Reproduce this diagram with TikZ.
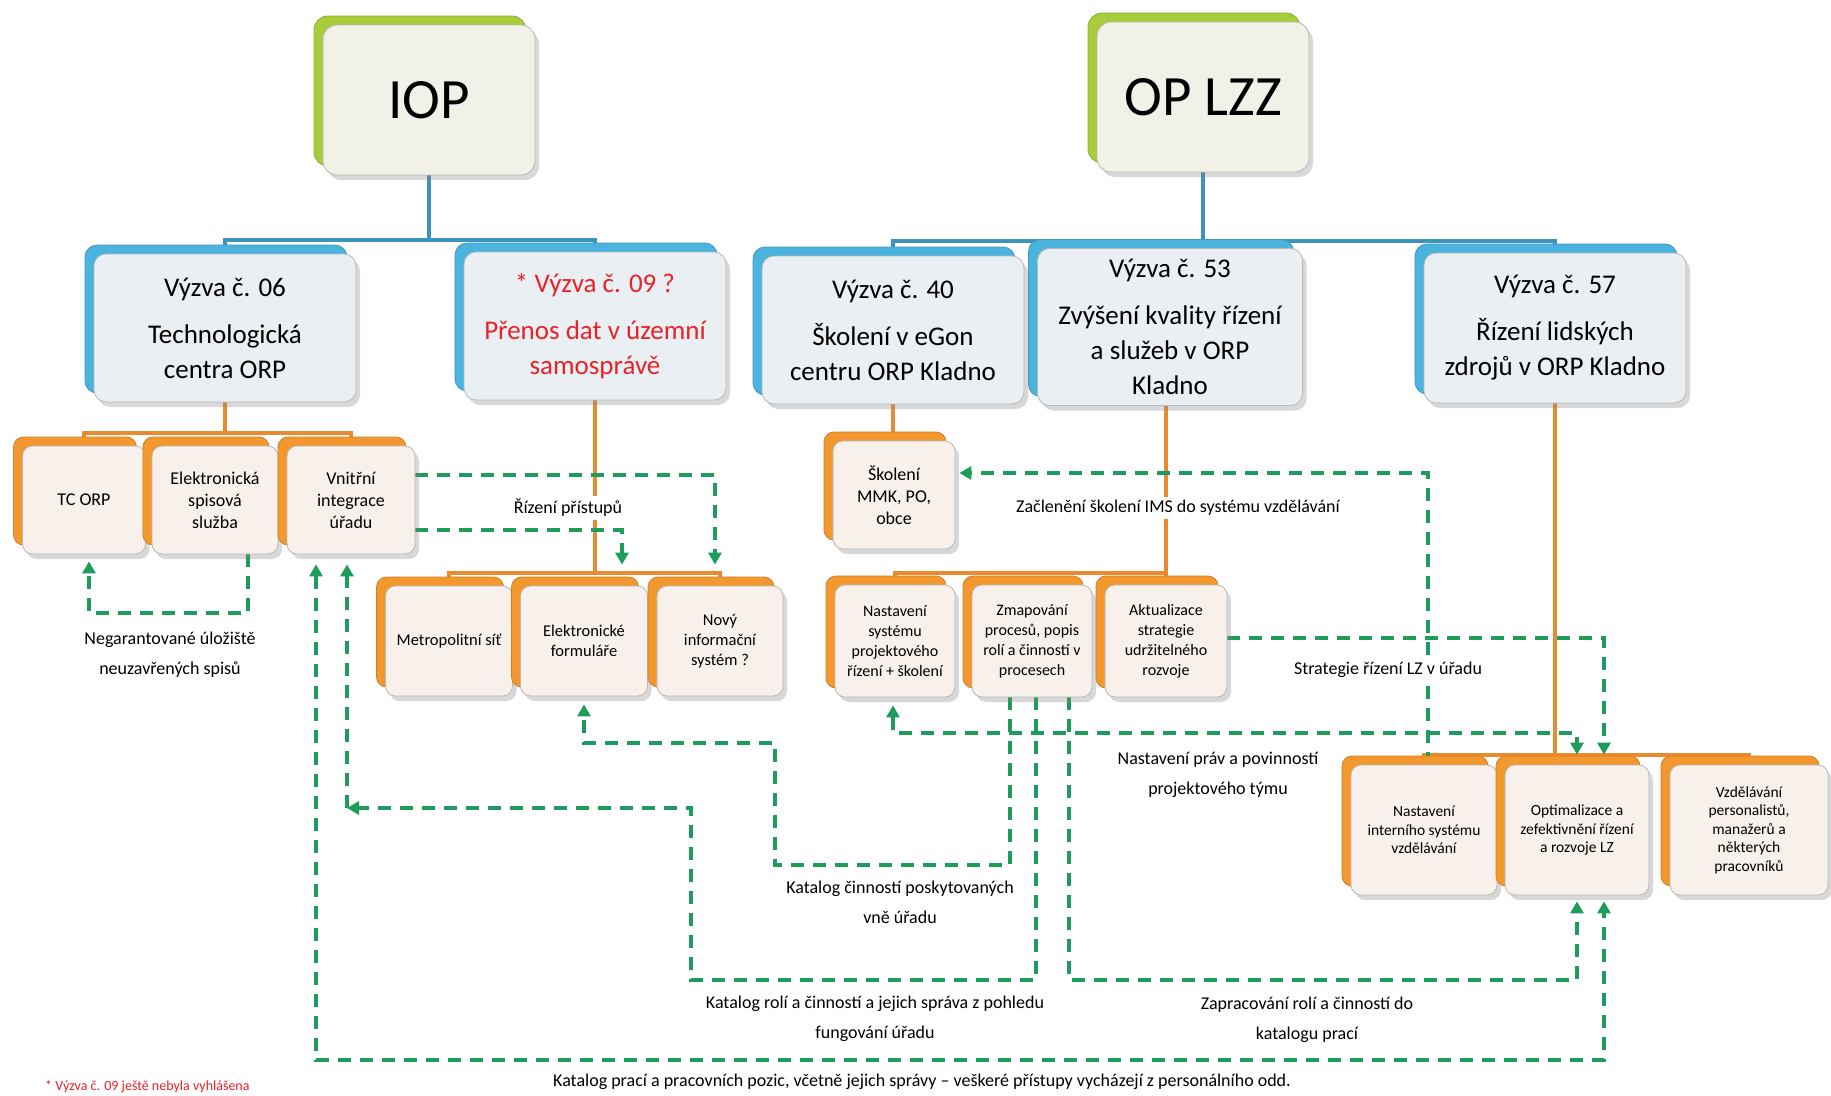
\documentclass[tikz,border=0pt]{standalone}
\usepackage{fontspec}
\setmainfont{Carlito}
\usetikzlibrary{arrows.meta,shadows,backgrounds}

\definecolor{plateblue}{RGB}{75,180,222}
\definecolor{lineblue}{RGB}{60,148,188}
\definecolor{plateorange}{RGB}{243,152,46}
\definecolor{lineorange}{RGB}{234,138,46}
\definecolor{plategreen}{RGB}{168,204,58}
\definecolor{flowgreen}{RGB}{30,156,92}
\definecolor{faceblue}{RGB}{233,239,243}
\definecolor{faceorange}{RGB}{247,240,235}
\definecolor{facegreen}{RGB}{241,241,232}
\definecolor{notered}{RGB}{232,34,40}

\tikzset{
  plate/.style={rounded corners=10pt, draw=white!72!black, line width=0.8pt,
    drop shadow={shadow xshift=4pt, shadow yshift=-5pt, opacity=0.3},
    copy shadow={shadow xshift=-9pt, shadow yshift=9pt, fill=#1, draw=#1!85!black}},
  topbox/.style={plate=plategreen, fill=facegreen, rounded corners=14pt,
    minimum width=212pt, minimum height=150pt, font=\fontsize{57}{60}\selectfont},
  callbox/.style={plate=plateblue, fill=faceblue, rounded corners=12pt, align=center,
    minimum width=262pt, minimum height=148pt, font=\fontsize{27}{35}\selectfont},
  taskbox/.style={plate=plateorange, fill=faceorange, align=center, inner sep=2pt,
    minimum width=124pt, minimum height=108pt, font=\fontsize{18}{22}\selectfont},
  callline/.style={lineblue, line width=4pt},
  taskline/.style={lineorange, line width=3.5pt},
  flowtip/.tip={Triangle[length=12pt,width=13pt]},
  flow/.style={flowgreen, line width=3.5pt, dash pattern=on 13pt off 9pt, -flowtip},
  flowlabel/.style={fill=white, inner sep=3pt, align=center, font=\fontsize{18}{30}\selectfont}
}

\begin{document}
\begin{tikzpicture}[x=1pt, y=-1pt]
  \useasboundingbox (0,0) rectangle (1831,1095);

  \node[topbox] (iop) at (429,100) {IOP};
  \node[topbox] (oplzz) at (1203,97) {OP LZZ};

  \node[callbox] (v06) at (225,328) {Výzva č. 06\\[12pt]Technologická\\centra ORP};
  \node[callbox, text=notered] (v09) at (595,326) {* Výzva č. 09 ?\\[12pt]Přenos dat v územní\\samosprávě};
  \node[callbox] (v40) at (893,330) {Výzva č. 40\\[12pt]Školení v eGon\\centru ORP Kladno};
  \node[callbox, minimum width=265pt, minimum height=157pt] (v53) at (1170,327) {Výzva č. 53\\[12pt]Zvýšení kvality řízení\\a služeb v ORP\\Kladno};
  \node[callbox, minimum height=150pt] (v57) at (1555,328) {Výzva č. 57\\[12pt]Řízení lidských\\zdrojů v ORP Kladno};

  \node[taskbox, minimum width=123pt] (tc) at (84,500) {TC ORP};
  \node[taskbox, minimum width=126pt] (elsp) at (215,500) {Elektronická\\spisová\\služba};
  \node[taskbox, minimum width=128pt] (vnitrni) at (351,500) {Vnitřní\\integrace\\úřadu};

  \node[taskbox, minimum width=127pt, minimum height=110pt, font=\fontsize{16.5}{20}\selectfont] (metro) at (449,641) {Metropolitní síť};
  \node[taskbox, minimum width=127pt, minimum height=110pt, font=\fontsize{16.5}{20}\selectfont] (form) at (584,641) {Elektronické\\formuláře};
  \node[taskbox, minimum width=126pt, minimum height=110pt, font=\fontsize{16.5}{20}\selectfont] (novy) at (720,641) {Nový\\informační\\systém ?};

  \node[taskbox, minimum width=122pt] (skol) at (894,495) {Školení\\MMK, PO,\\obce};

  \node[taskbox, minimum width=120pt, minimum height=112pt, font=\fontsize{16}{20}\selectfont] (nsp) at (895,641) {Nastavení\\systému\\projektového\\řízení + školení};
  \node[taskbox, minimum width=120pt, minimum height=112pt, font=\fontsize{16}{20}\selectfont] (zmap) at (1032,641) {Zmapování\\procesů, popis\\rolí a činností v\\procesech};
  \node[taskbox, minimum width=122pt, minimum height=112pt, font=\fontsize{16}{20}\selectfont] (aktual) at (1166,641) {Aktualizace\\strategie\\udržitelného\\rozvoje};

  \node[taskbox, minimum width=146pt, minimum height=130pt, font=\fontsize{15.5}{18.5}\selectfont] (nint) at (1424,830) {Nastavení\\interního systému\\vzdělávání};
  \node[taskbox, minimum width=144pt, minimum height=130pt, font=\fontsize{15.5}{18.5}\selectfont] (optim) at (1577,830) {Optimalizace a\\zefektivnění řízení\\a rozvoje LZ};
  \node[taskbox, minimum width=158pt, minimum height=130pt, font=\fontsize{15.5}{18.5}\selectfont] (vzdel) at (1749,830) {Vzdělávání\\personalistů,\\manažerů a\\některých\\pracovníků};

  \coordinate (rolecorner) at (347,808);

  \node[flowlabel] (lblstore) at (170,655) {Negarantované úložiště\\neuzavřených spisů};
  \node[flowlabel] (lblaccess) at (568,508) {Řízení přístupů};
  \node[flowlabel] (lblims) at (1178,508) {Začlenění školení IMS do systému vzdělávání};
  \node[flowlabel] (lblstrat) at (1388,670) {Strategie řízení LZ v úřadu};
  \node[flowlabel] (lblrights) at (1218,775) {Nastavení práv a povinností\\projektového týmu};
  \node[flowlabel] (lblout) at (900,902) {Katalog činností poskytovaných\\vně úřadu};
  \node[flowlabel] (lblroles) at (875,1019) {Katalog rolí a činností a jejich správa z pohledu\\fungování úřadu};
  \node[flowlabel] (lbljobs) at (1307,1020) {Zapracování rolí a činností do\\katalogu prací};
  \node[flowlabel] (lblall) at (922,1082) {Katalog prací a pracovních pozic, včetně jejich správy – veškeré přístupy vycházejí z personálního odd.};
  \node[anchor=south west, inner sep=0pt, text=notered, font=\fontsize{14}{16}\selectfont] (note) at (45,1093) {* Výzva č. 09 ještě nebyla vyhlášena};

  \begin{pgfonlayer}{background}
    \fill[white] (0,0) rectangle (1831,1095);

    \draw[callline] (iop.south) -- (iop.south |- 0,240);
    \draw[callline] (v06.north) |- (iop.south |- 0,240) -| (v09.north);
    \draw[callline] (oplzz.south) -- (oplzz.south |- 0,241);
    \draw[callline] (v40.north) |- (oplzz.south |- 0,241) -| (v57.north);

    \draw[taskline] (v06.south) -- (v06.south |- 0,433);
    \draw[taskline] (tc.north) |- (v06.south |- 0,433) -| (vnitrni.north);
    \draw[taskline] (v09.south) -- (v09.south |- 0,573);
    \draw[taskline] (metro.north) |- (v09.south |- 0,573) -| (novy.north);
    \draw[taskline] (v40.south) -- (v40.south |- skol.north);
    \draw[taskline] (aktual.north |- v53.south) -- (aktual.north |- 0,573);
    \draw[taskline] (nsp.north) |- (aktual.north |- 0,573) -- (aktual.north);
    \draw[taskline] (v57.south) -- (v57.south |- 0,755);
    \draw[taskline] (nint.north) |- (v57.south |- 0,755) -| (vzdel.north);

    \draw[flow] ([xshift=33pt]elsp.south) |- (89,613) -- ([xshift=5pt,yshift=-7pt]tc.south);
    \draw[flow] ([yshift=25pt]vnitrni.east) -| ([xshift=-5pt,yshift=21pt]novy.north);
    \draw[flow] ([yshift=-30pt]vnitrni.east) -| ([xshift=38pt,yshift=21pt]form.north);
    \draw[flow] ([xshift=-22pt]zmap.south) |- (775,865) |- (584,743) -- ([yshift=-8pt]form.south);
    \draw[flow] ([xshift=4pt]zmap.south) |- (691,980) |- (rolecorner);
    \draw[flow] (rolecorner) -- ([xshift=-4pt,yshift=-10pt]vnitrni.south);
    \draw[flow, flowtip-flowtip] ([xshift=-35pt,yshift=-10pt]vnitrni.south) |- (1604,1060) -- ([xshift=27pt,yshift=-6pt]optim.south);
    \draw[flow] ([xshift=37pt]zmap.south) |- (1577,980) -- ([yshift=-6pt]optim.south);
    \draw[flow] ([xshift=4pt]nint.north) |- ([xshift=4pt,yshift=22pt]skol.east);
    \draw[flow] ([yshift=3pt]aktual.east) -| ([xshift=27pt,yshift=10pt]optim.north);
    \draw[flow, flowtip-flowtip] ([xshift=-2pt,yshift=-8pt]nsp.south) |- (1577,733) -- ([yshift=10pt]optim.north);
  \end{pgfonlayer}
\end{tikzpicture}
\end{document}
